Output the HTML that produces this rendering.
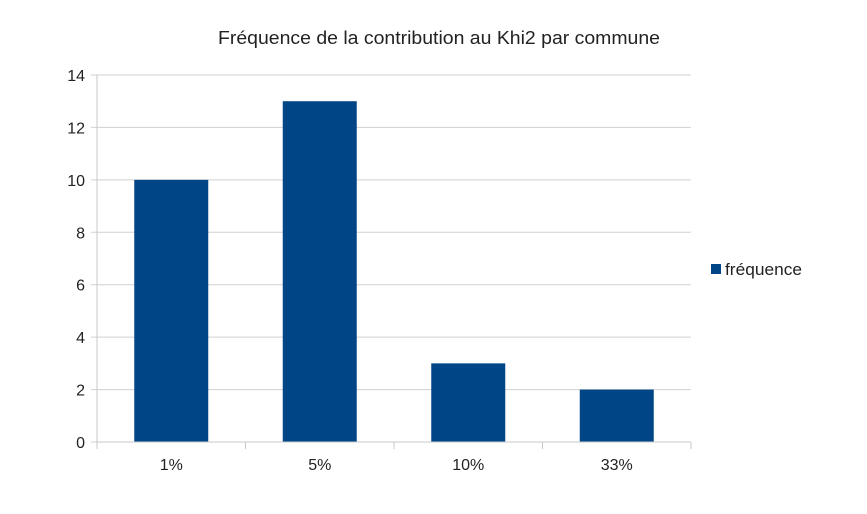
<!DOCTYPE html>
<html><head><meta charset="utf-8"><style>
body{margin:0;background:#fff;font-family:"Liberation Sans",sans-serif}
svg text{font-family:"Liberation Sans",sans-serif;fill:#222}
</style></head><body>
<svg id="chart" width="867" height="509" xmlns="http://www.w3.org/2000/svg">
<text x="439" y="44" font-size="18" text-anchor="middle" textLength="442" lengthAdjust="spacingAndGlyphs">Fréquence de la contribution au Khi2 par commune</text>
<g id="grid"></g><g id="bars"></g><g id="axes"></g>
<g>
<rect x="711" y="264" width="10" height="10" fill="#004586"/>
<text x="725" y="275" font-size="17" textLength="77" lengthAdjust="spacingAndGlyphs">fréquence</text>
</g>
</svg>
<script>
const categories=["1%","5%","10%","33%"];
const values=[10,13,3,2];
const yTicks=[0,2,4,6,8,10,12,14];
const X0=97,X1=691,Y0=442,Y1=75,YMAX=14;
const ns="http://www.w3.org/2000/svg";
const bw=(X1-X0)/categories.length;
function y(v){return Y0-(v/YMAX)*(Y0-Y1);}
function mk(t,a,p){const e=document.createElementNS(ns,t);for(const k in a)e.setAttribute(k,a[k]);p.appendChild(e);return e;}
const grid=document.getElementById('grid'),bars=document.getElementById('bars'),axes=document.getElementById('axes');
yTicks.forEach(t=>{
 const l=mk('line',{x1:X0-6,x2:X1,y1:y(t),y2:y(t),stroke:'#d0d0d0','stroke-width':1},grid);
 
 
 const tx=mk('text',{x:X0-12,y:y(t)+6,'font-size':16,'text-anchor':'end'},axes);
 tx.textContent=t;
 
 
});
categories.forEach((c,i)=>{
 const cx=X0+bw*(i+0.5);
 const r=mk('rect',{x:cx-37,y:y(values[i]),width:74,height:Y0-y(values[i]),fill:'#004586'},bars);
 
 
 const tx=mk('text',{x:cx,y:470,'font-size':16,'text-anchor':'middle'},axes);
 tx.textContent=c;
 
 
});
for(let i=0;i<=categories.length;i++){
 const l=mk('line',{x1:X0+bw*i,x2:X0+bw*i,y1:Y0,y2:Y0+7,stroke:'#c8c8c8'},axes);
 
 
}
const ya=mk('line',{x1:X0,x2:X0,y1:Y1,y2:Y0,stroke:'#c8c8c8'},axes);


const xa=mk('line',{x1:X0,x2:X1,y1:Y0,y2:Y0,stroke:'#c8c8c8'},axes);


</script>
</body></html>
